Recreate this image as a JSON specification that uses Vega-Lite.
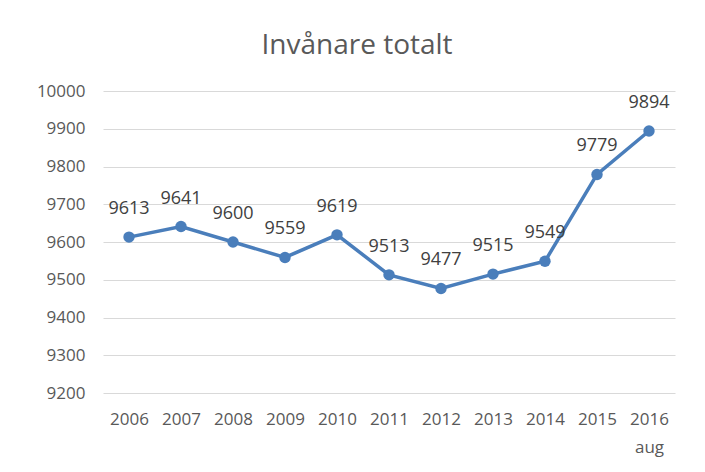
{
  "$schema": "https://vega.github.io/schema/vega-lite/v6.json",
  "autosize": {"type": "none"},
  "width": 572,
  "height": 302,
  "padding": {"left": 103, "top": 91, "right": 30, "bottom": 79},
  "background": "white",
  "title": {
    "text": "Invånare totalt",
    "font": "Open Sans",
    "fontSize": 28,
    "fontWeight": "normal",
    "color": "#595959",
    "anchor": "middle",
    "dx": -32,
    "offset": 22
  },
  "config": {
    "view": {"stroke": null},
    "font": "Open Sans"
  },
  "data": {
    "values": [
      {"year": "2006", "value": 9613},
      {"year": "2007", "value": 9641},
      {"year": "2008", "value": 9600},
      {"year": "2009", "value": 9559},
      {"year": "2010", "value": 9619},
      {"year": "2011", "value": 9513},
      {"year": "2012", "value": 9477},
      {"year": "2013", "value": 9515},
      {"year": "2014", "value": 9549},
      {"year": "2015", "value": 9779},
      {"year": "2016 aug", "value": 9894}
    ]
  },
  "encoding": {
    "x": {
      "field": "year",
      "type": "ordinal",
      "sort": null,
      "scale": {"paddingInner": 0, "paddingOuter": 0.5},
      "axis": {
        "title": null,
        "labelAngle": 0,
        "labelExpr": "split(datum.label, ' ')",
        "labelFont": "Open Sans",
        "labelFontSize": 17,
        "labelColor": "#595959",
        "labelPadding": 18,
        "labelLineHeight": 28,
        "ticks": false,
        "domain": false
      }
    },
    "y": {
      "field": "value",
      "type": "quantitative",
      "scale": {"domain": [9200, 10000]},
      "axis": {
        "title": null,
        "format": "d",
        "values": [9200, 9300, 9400, 9500, 9600, 9700, 9800, 9900, 10000],
        "labelFont": "Open Sans",
        "labelFontSize": 17,
        "labelColor": "#595959",
        "labelPadding": 18,
        "ticks": false,
        "domain": false,
        "gridColor": "#d9d9d9",
        "gridWidth": 1
      }
    }
  },
  "layer": [
    {
      "mark": {"type": "line", "color": "#4a7ebb", "strokeWidth": 3.5}
    },
    {
      "mark": {"type": "point", "filled": true, "opacity": 1, "color": "#4a7ebb", "size": 130}
    },
    {
      "mark": {"type": "text", "dy": -28, "baseline": "middle", "font": "Open Sans", "fontSize": 18, "color": "#404040"},
      "encoding": {"text": {"field": "value", "type": "quantitative", "format": "d"}}
    }
  ]
}
